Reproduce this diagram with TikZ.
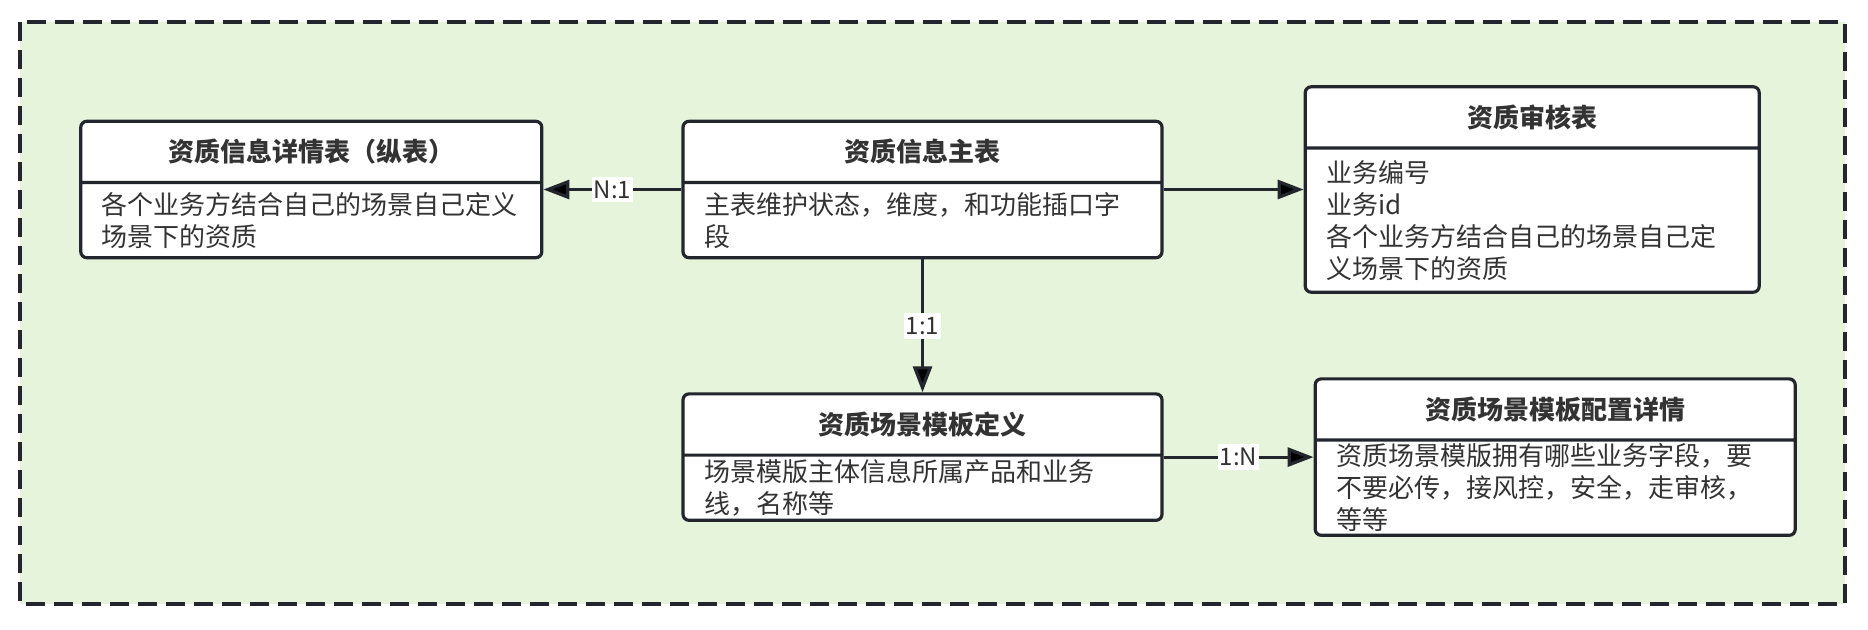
\documentclass[tikz,border=0pt]{standalone}
\usepackage{fontspec}
\setmainfont{Noto Sans CJK SC}
\usetikzlibrary{shapes.multipart,positioning,arrows.meta}
\definecolor{bggreen}{RGB}{231,244,220}
\definecolor{linec}{RGB}{35,39,45}
\definecolor{textc}{RGB}{51,51,51}
\newcommand{\tblhead}[2]{\parbox[c][29pt][c]{#1}{\centering\bfseries #2}}
\newcommand{\tblbody}[3]{\parbox[c][#2][c]{#1}{\raggedright\leftskip=10.5pt #3}}

\begin{document}
\begin{tikzpicture}
\tikzstyle{every node}=[font=\fontsize{13pt}{16pt}\selectfont, text=textc]
\tikzstyle{tbl}=[rectangle split, rectangle split parts=2, draw=linec, line width=1.6pt, rounded corners=3pt, fill=white, inner sep=0pt]
\tikzstyle{lbl}=[fill=white, inner xsep=1pt, inner ysep=2pt, font=\fontsize{12pt}{14pt}\selectfont]
\tikzstyle{arr}=[-{Triangle[length=13pt,width=9.5pt]}, draw=linec, line width=1.6pt]
\useasboundingbox (0,0) rectangle (934pt,-315pt);
% outer frame
\draw[linec, fill=bggreen, line width=2pt, dash pattern=on 9.5pt off 4.5pt] (10pt,-11pt) rectangle (922.5pt,-302pt);

   \node[tbl](B) at (461.25pt,-94.75pt){\nodepart{one}\tblhead{239.5pt}{资质信息主表}\nodepart{two}\tblbody{239.5pt}{36pt}{主表维护状态，维度，和功能插口字\\段}};
   \node[tbl](A)[left=69pt of B]{\nodepart{one}\tblhead{230.5pt}{资质信息详情表（纵表）}\nodepart{two}\tblbody{230.5pt}{36pt}{各个业务方结合自己的场景自己定义\\场景下的资质}};
   \node[tbl](C)[right=70pt of B]{\nodepart{one}\tblhead{227pt}{资质审核表}\nodepart{two}\tblbody{227pt}{70.5pt}{业务编号\\业务id\\各个业务方结合自己的场景自己定\\义场景下的资质}};
   \node[tbl](D)[below=66.5pt of B]{\nodepart{one}\tblhead{239.5pt}{资质场景模板定义}\nodepart{two}\tblbody{239.5pt}{31pt}{场景模版主体信息所属产品和业务\\线，名称等}};
   \node[tbl](E)[right=75pt of D]{\nodepart{one}\tblhead{240pt}{资质场景模板配置详情}\nodepart{two}\tblbody{240pt}{46pt}{资质场景模版拥有哪些业务字段，要\\不要必传，接风控，安全，走审核，\\等等}};
   \path[arr](B) edge node[lbl]{N:1}(A);
   \path[arr](B) edge (C);
   \path[arr](B) edge node[lbl]{1:1}(D);
   \path[arr](D) edge node[lbl]{1:N}(E);

\end{tikzpicture}
\end{document}
